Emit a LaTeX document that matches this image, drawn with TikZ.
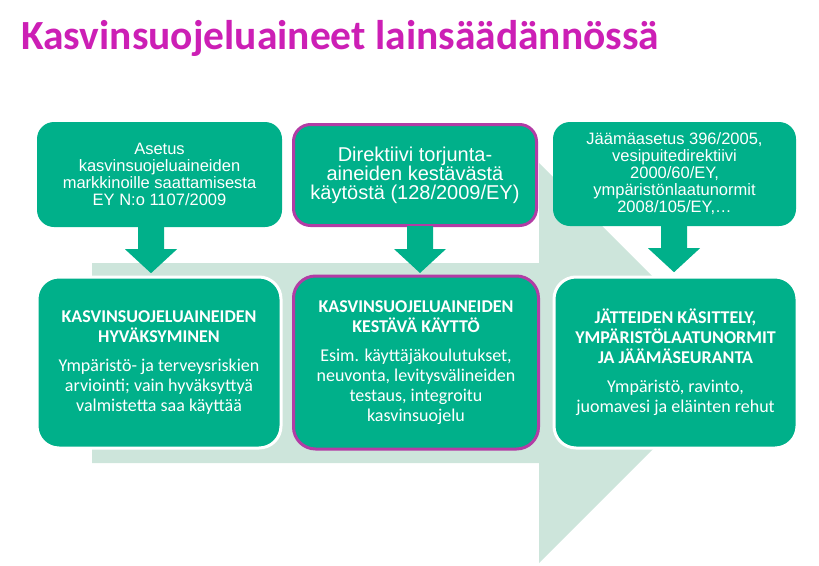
\documentclass[tikz,border=0pt]{standalone}
\usepackage{fontspec}
\setmainfont{Carlito}
\newfontfamily\arialfont{Liberation Sans}
\usetikzlibrary{calc}
\definecolor{boxgreen}{RGB}{0,176,138}
\definecolor{bandgreen}{RGB}{205,229,219}
\definecolor{magborder}{RGB}{178,60,165}
\definecolor{titlemag}{RGB}{204,31,181}
\tikzset{
  gbox/.style={fill=boxgreen, rounded corners=17pt, text=white, align=center, inner sep=0pt},
  topbox/.style={gbox, draw=none, font=\arialfont\fontsize{16.5}{17}\selectfont},
  botbox/.style={gbox, draw=white, line width=3pt, rounded corners=22pt, font=\fontsize{18}{20}\selectfont},
  magbox/.style={draw=magborder, line width=3pt},
  downarrow/.style={fill=boxgreen, draw=none},
  bandfill/.style={fill=bandgreen, draw=none}
}
\begin{document}
\begin{tikzpicture}[x=1pt,y=-1pt]
\useasboundingbox (0,0) rectangle (819,565);
% background big arrow
\fill[bandfill] (92,263) -- (539,263) -- (539,163) -- (739,363) -- (539,563) -- (539,463) -- (92,463) -- cycle;
% title
\node[anchor=base west, inner sep=0pt, text=titlemag, font=\bfseries\fontsize{41.5}{44}\selectfont] (title) at (21,49) {Kasvinsuojeluaineet lainsäädännössä};
% top boxes
\node[topbox, minimum width=245pt, minimum height=105pt] (t1) at (159.5,174.5)
  {Asetus\\kasvinsuojeluaineiden\\markkinoille saattamisesta\\EY N:o 1107/2009};
\node[topbox, magbox, minimum width=243pt, minimum height=101pt, font=\arialfont\fontsize{20}{19}\selectfont] (t2) at (415,175)
  {Direktiivi torjunta-\\aineiden kestävästä\\käytöstä (128/2009/EY)};
\node[topbox, minimum width=243pt, minimum height=104pt] (t3) at (674.5,174)
  {Jäämäasetus 396/2005,\\vesipuitedirektiivi\\2000/60/EY,\\ympäristönlaatunormit\\2008/105/EY,…};
% bottom boxes
\node[botbox, minimum width=244pt, minimum height=171pt] (b1) at (159,362.5)
  {\textbf{KASVINSUOJELUAINEIDEN}\\\textbf{HYVÄKSYMINEN}\\[9pt]Ympäristö- ja terveysriskien\\arviointi; vain hyväksyttyä\\valmistetta saa käyttää};
\node[botbox, magbox, minimum width=245pt, minimum height=173pt] (b2) at (416,362.5)
  {\textbf{KASVINSUOJELUAINEIDEN}\\\textbf{KESTÄVÄ KÄYTTÖ}\\[9pt]Esim. käyttäjäkoulutukset,\\neuvonta, levitysvälineiden\\testaus, integroitu\\kasvinsuojelu};
\node[botbox, minimum width=243pt, minimum height=171pt] (b3) at (675.5,362.5)
  {\textbf{JÄTTEIDEN KÄSITTELY,}\\\textbf{YMPÄRISTÖLAATUNORMIT}\\\textbf{JA JÄÄMÄSEURANTA}\\[9pt]Ympäristö, ravinto,\\juomavesi ja eläinten rehut};
% down arrows
\coordinate (a1) at ($(t1.south)+(-8.5,0)$);
\coordinate (a2) at ($(t2.south)+(5,0)$);
\coordinate (a3) at ($(t3.south)+(-0.5,0)$);
\foreach \a in {a1,a2,a3}{
  \fill[downarrow] ($(\a)+(-13,-1)$) -- ($(\a)+(13,-1)$) -- ($(\a)+(13,22)$) -- ($(\a)+(26,22)$)
    -- ($(\a)+(0,46)$) -- ($(\a)+(-26,22)$) -- ($(\a)+(-13,22)$) -- cycle;
}
\end{tikzpicture}
\end{document}
